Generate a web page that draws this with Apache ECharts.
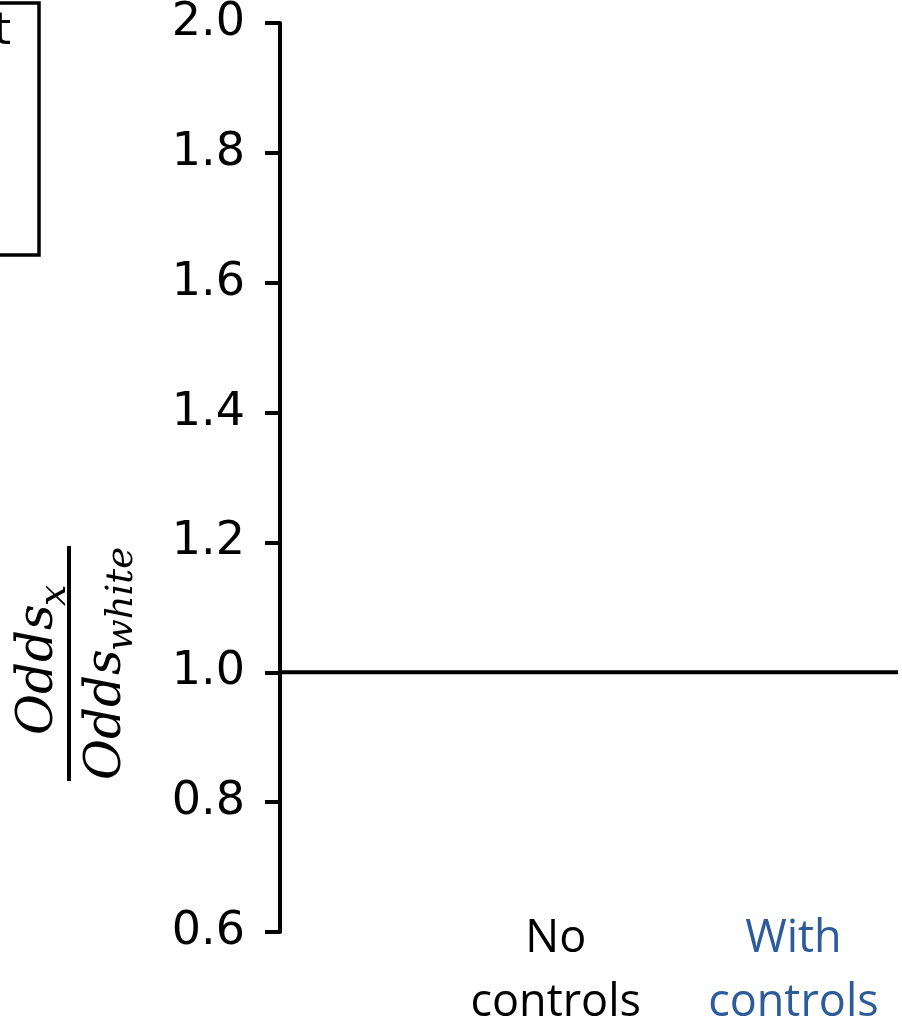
<!DOCTYPE html>
<html><head><meta charset="utf-8">
<script src="https://cdn.jsdelivr.net/npm/echarts@6/dist/echarts.min.js"></script>
<style>html,body{margin:0;padding:0;background:#fff}#c{width:902px;height:1026px}</style>
</head><body><div id="c"></div>
<script>
// ---- data ----
const categories = ['No\ncontrols', 'With\ncontrols'];
const categoryX = [1, 2];
const categoryColors = ['#000000', '#2c5c9c'];
const refLineX = [-0.16, 2.44];
const refLineY = [1.0, 1.0];
const yMin = 0.6, yMax = 2.0, yStep = 0.2;
const legendText = 't';

const chart = echarts.init(document.getElementById('c'), null, {renderer: 'canvas'});

const lineData = refLineX.map((x, i) => [x, refLineY[i]]);
const serif = 'DejaVu Serif';

chart.setOption({
  animation: false,
  backgroundColor: '#ffffff',
  grid: {left: 280, right: 4, top: 22, bottom: 94, containLabel: false},
  xAxis: {
    type: 'value', min: refLineX[0], max: refLineX[1],
    axisLine: {show: false, onZero: false}, axisTick: {show: false}, splitLine: {show: false},
    axisLabel: {
      customValues: categoryX,
      margin: -25,
      formatter: function (v) {
        const i = categoryX.indexOf(v);
        if (i < 0) return '';
        const key = i === 0 ? 'a' : 'b';
        return categories[i].split('\n').map(s => '{' + key + '|' + s + '}').join('\n');
      },
      rich: {
        a: {fontFamily: 'Open Sans', fontSize: 45, lineHeight: 64, color: categoryColors[0]},
        b: {fontFamily: 'Open Sans', fontSize: 45, lineHeight: 64, color: categoryColors[1]}
      }
    }
  },
  yAxis: {
    type: 'value', min: yMin, max: yMax, interval: yStep,
    axisLine: {show: true, onZero: false, lineStyle: {color: '#000', width: 4}},
    axisTick: {show: true, length: 15, lineStyle: {color: '#000', width: 4}},
    splitLine: {show: false},
    axisLabel: {
      margin: 35, color: '#000', fontFamily: 'DejaVu Sans', fontSize: 46,
      formatter: v => v.toFixed(1)
    }
  },
  series: [{
    type: 'line', data: lineData, symbol: 'none',
    lineStyle: {color: '#000', width: 4}, silent: true
  }],
  graphic: [
    {type: 'rect', shape: {x: -10, y: 3, width: 49, height: 252}, style: {fill: 'none', stroke: '#000', lineWidth: 3.5}},
    {type: 'text', x: 11, y: 11, style: {text: legendText, fontFamily: 'DejaVu Sans', fontSize: 44, fill: '#000', align: 'right', verticalAlign: 'top'}},
    {
      type: 'group', x: 69, y: 664, rotation: Math.PI / 2,
      children: [
        {type: 'rect', shape: {x: -117, y: -2, width: 235, height: 4}, style: {fill: '#000'}},
        {type: 'text', x: -71, y: -5, style: {text: 'Odds', fontFamily: serif, fontStyle: 'italic', fontSize: 50, fill: '#000', align: 'left', verticalAlign: 'bottom'}},
        {type: 'text', x: 58, y: 5, style: {text: 'x', fontFamily: serif, fontStyle: 'italic', fontSize: 38, fill: '#000', align: 'left', verticalAlign: 'bottom'}},
        {type: 'text', x: -116, y: 63, style: {text: 'Odds', fontFamily: serif, fontStyle: 'italic', fontSize: 50, fill: '#000', align: 'left', verticalAlign: 'bottom'}},
        {type: 'text', x: 13, y: 72, style: {text: 'white', fontFamily: serif, fontStyle: 'italic', fontSize: 37, fill: '#000', align: 'left', verticalAlign: 'bottom'}}
      ]
    }
  ]
});
</script></body></html>
